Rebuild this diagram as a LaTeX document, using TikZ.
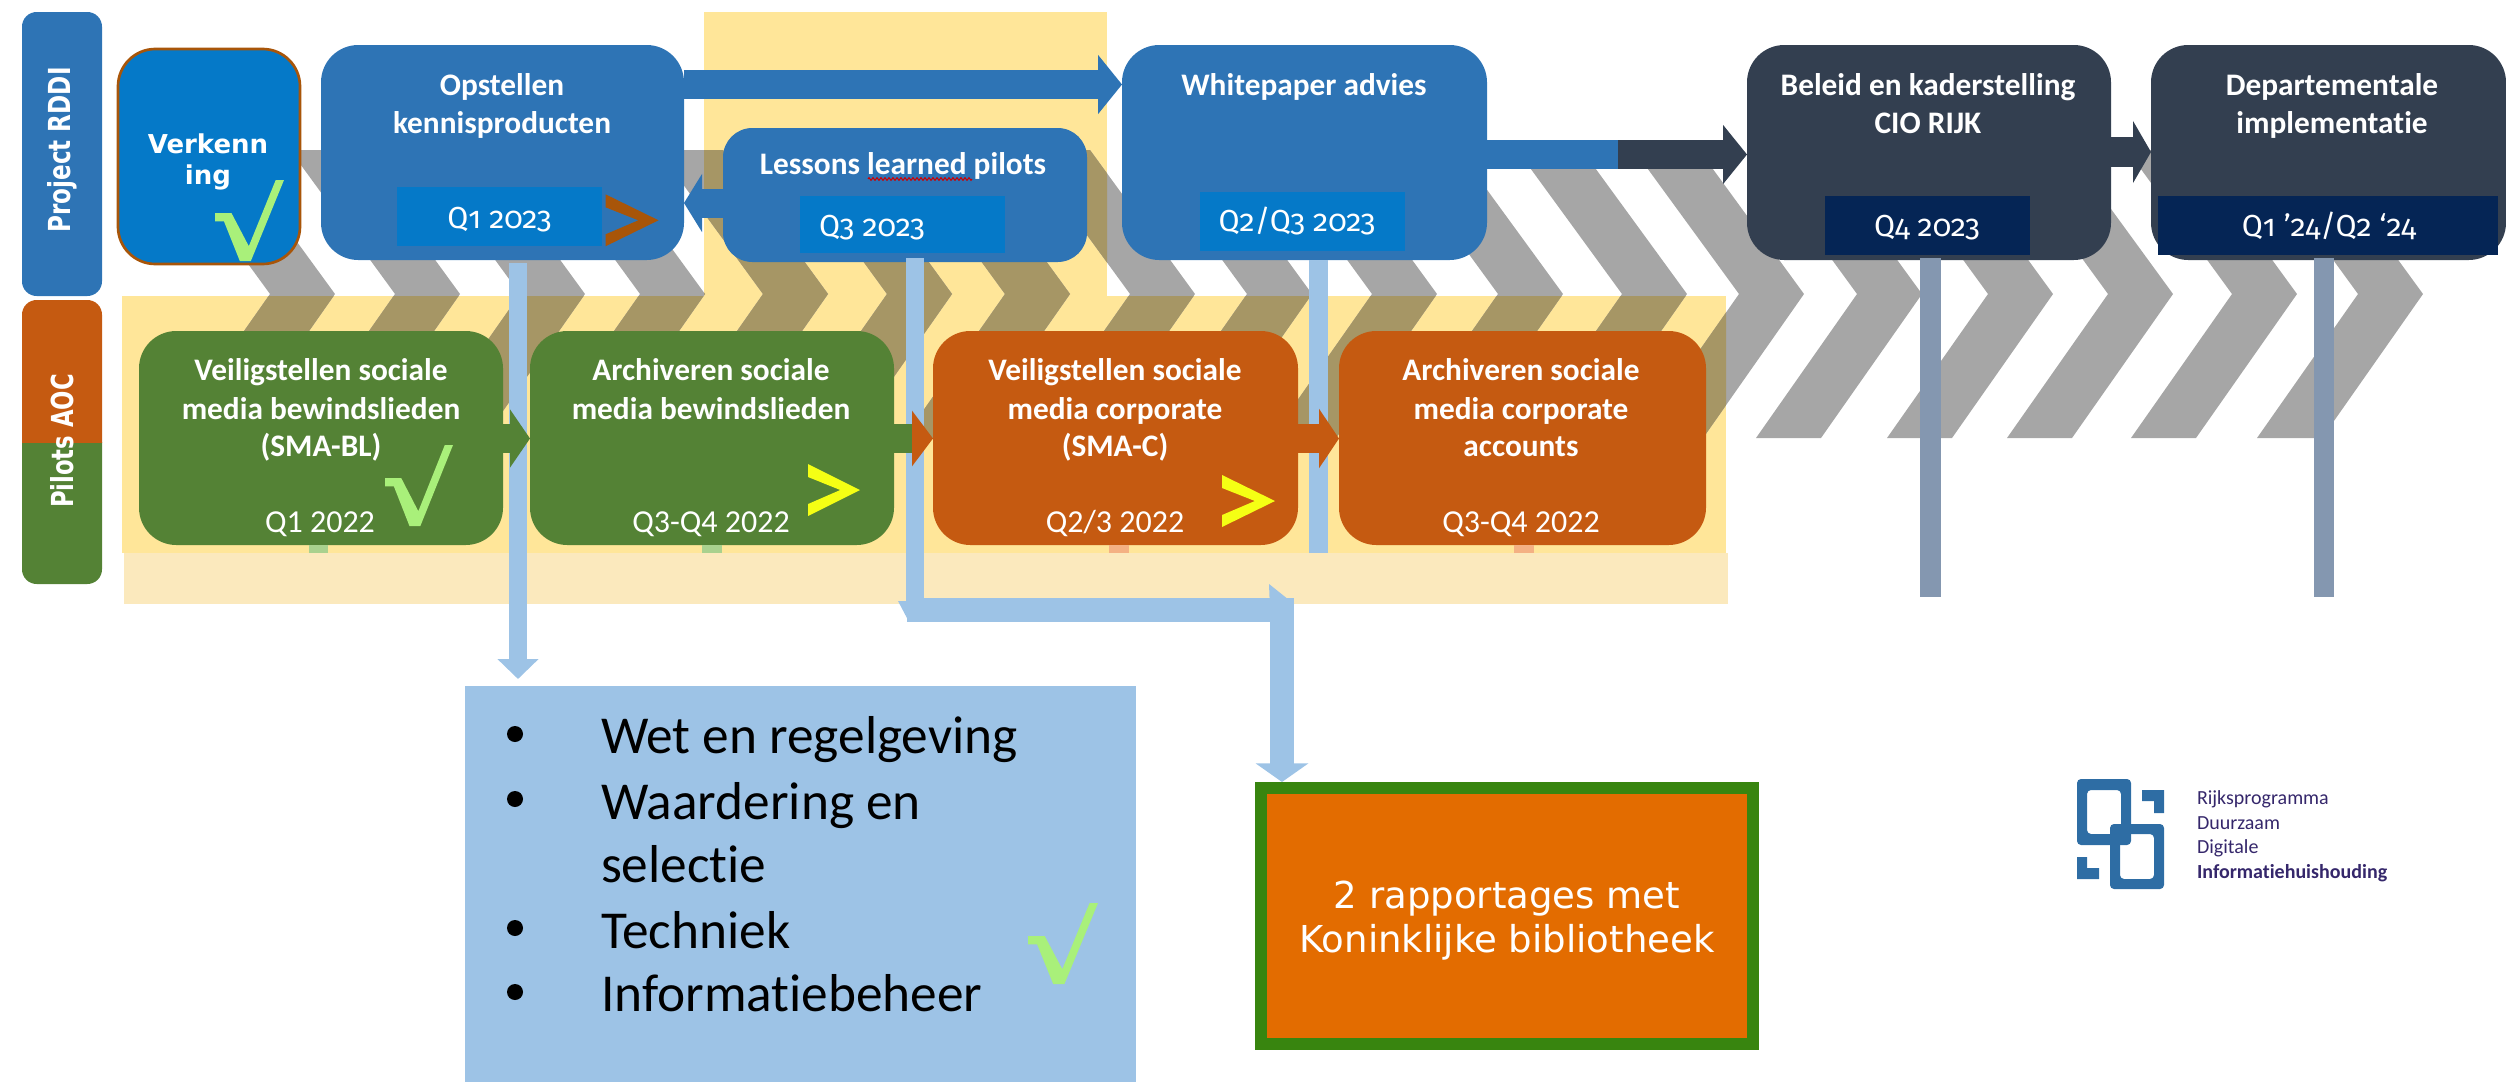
\documentclass[tikz,border=0pt]{standalone}
\usepackage{fontspec}
\setmainfont{Carlito}[Ligatures=CommonOff]
\newfontfamily\vfont{DejaVu Sans}
\newfontfamily\qfont{Fira Sans}[Numbers=OldStyle]
\usetikzlibrary{arrows.meta,decorations.pathmorphing}
\definecolor{bblue}{HTML}{2E74B5}
\definecolor{qblue}{HTML}{0579C8}
\definecolor{navy}{HTML}{052555}
\definecolor{slate}{HTML}{333F50}
\definecolor{pgreen}{HTML}{548235}
\definecolor{porange}{HTML}{C55A11}
\definecolor{darkor}{HTML}{A85509}
\definecolor{yel}{HTML}{FFE699}
\definecolor{pale}{HTML}{FBE9BD}
\definecolor{chgrey}{HTML}{A6A6A6}
\definecolor{olive}{HTML}{A69665}
\definecolor{lblue}{HTML}{9DC3E6}
\definecolor{gblue}{HTML}{8497B0}
\definecolor{chkgreen}{HTML}{A9F07A}
\definecolor{logoblue}{HTML}{2E6DA4}
\definecolor{logotxt}{HTML}{35276B}
\definecolor{stubg}{HTML}{A9D18E}
\definecolor{stubo}{HTML}{F4B183}
\definecolor{repgreen}{HTML}{38850F}
\definecolor{repor}{HTML}{E36C00}
\definecolor{yelgt}{HTML}{F5FF14}
\newcommand\bx[6]{%
 \pgfmathsetmacro\bcx{(#3+#5)/2}\pgfmathsetmacro\bcy{(#4+#6)/2}%
 \pgfmathsetmacro\bw{(#5-#3)*0.75}\pgfmathsetmacro\bh{(#6-#4)*0.75}%
 \node[plain,#1,minimum width=\bw pt,minimum height=\bh pt] (#2) at (\bcx,\bcy) {};}
\newcommand\chev[1]{(#1-170,150) -- (#1-105,150) -- (#1,294) -- (#1-101,438) -- (#1-166,438) -- (#1-65,294) -- cycle}
\newcommand\allchev{%
 \foreach \T in {335,460,585,705,828,952,1070,1195,1312,1437,1563,1687,1804,1922,2053,2173,2297,2423}{\fill \chev{\T};}}
\newcommand\chk[4]{\fill[chkgreen,shift={(#1,#2)},xscale=#3,yscale=#4] (0,.41) -- (.24,.41) -- (.49,.817) -- (.88,0) -- (1,0) -- (.52,1) -- (.36,1) -- (.13,.51) -- (0,.51) -- cycle;}
\newcommand\gt[5]{\fill[#5,shift={(#1,#2)},xscale=#3,yscale=#4] (0,0) -- (1,.5) -- (0,1) -- (0,.77) -- (.62,.5) -- (0,.25) -- cycle;}
\tikzset{
 plain/.style={rectangle,inner sep=0pt,outer sep=0pt},
 rbox/.style={rounded corners=28pt},
 title/.style={anchor=base,inner sep=0pt,outer sep=0pt,text=white,font=\bfseries\fontsize{23.5}{28}\selectfont},
 qtxt/.style={anchor=base,inner sep=0pt,outer sep=0pt,text=white,font=\qfont\fontsize{22.8}{26}\selectfont},
 qlow/.style={anchor=base,inner sep=0pt,outer sep=0pt,text=white,font=\fontsize{24}{28}\selectfont},
 bul/.style={anchor=base west,inner sep=0pt,outer sep=0pt,text=black,font=\fontsize{40}{44}\selectfont},
 logot/.style={anchor=base west,inner sep=0pt,outer sep=0pt,text=logotxt,font=\fontsize{15}{18}\selectfont},
 rep/.style={anchor=base,inner sep=0pt,outer sep=0pt,text=white,font=\vfont\fontsize{27.8}{32}\selectfont},
 barrow/.style={draw=#1,line width=21.75pt,line cap=butt,-{Triangle[length=18pt,width=43.5pt,color=#1]}},
}
\begin{document}
\begin{tikzpicture}[x=0.75pt,y=-0.75pt]
\useasboundingbox (0,0) rectangle (2506,1082);
% background bands
\bx{fill=yel}{yeltop}{704}{12}{1107}{297}
\bx{fill=yel}{yellow}{122}{296}{1726}{553}
\bx{fill=pale}{palestrip}{124}{553}{1728}{604}
% chevrons
\begin{scope}[chgrey]\allchev\end{scope}
\begin{scope}
 \clip (704,12) rectangle (1107,296) (122,296) rectangle (1726,553);
 \begin{scope}[olive]\allchev\end{scope}
\end{scope}
% side bars
\bx{fill=bblue,rounded corners=11pt}{barA}{22}{12}{102}{296}
\begin{scope}
 \clip (22,442) rectangle (102,584);
 \bx{fill=pgreen,rounded corners=11pt}{barBg}{22}{300}{102}{584}
\end{scope}
\begin{scope}
 \clip (22,300) rectangle (102,442);
 \bx{fill=porange,rounded corners=11pt}{barBo}{22}{300}{102}{584}
\end{scope}
\node[plain,rotate=90,text=white] (lblA) at (62,150) {\scalebox{1.22}[1.6]{\vfont\bfseries\fontsize{14.2}{17}\selectfont Project RDDI}};
\node[plain,rotate=90,text=white] (lblB) at (62,441) {\scalebox{1.2}[1.6]{\vfont\bfseries\fontsize{14.2}{17}\selectfont Pilots AOC}};
% top boxes
\bx{fill=qblue,draw=darkor,line width=2pt,rbox}{verk}{118}{49}{300}{264}
\bx{fill=bblue,rbox}{opst}{321}{45}{684}{260}
\bx{fill=bblue,rounded corners=22pt}{less}{723}{128}{1087}{262}
\bx{fill=bblue,rbox}{wit}{1122}{45}{1487}{260}
\bx{fill=slate,rbox}{bel}{1747}{45}{2111}{260}
\bx{fill=slate,rbox}{dep}{2151}{45}{2506}{260}
% bottom boxes
\bx{fill=pgreen,rbox}{ga}{139}{331}{503}{545}
\bx{fill=pgreen,rbox}{gb}{530}{331}{894}{545}
\bx{fill=porange,rbox}{oa}{933}{331}{1298}{545}
\bx{fill=porange,rbox}{ob}{1339}{331}{1706}{545}
% stubs
\bx{fill=stubg}{s1}{309}{545}{328}{553}
\bx{fill=stubg}{s2}{702}{545}{722}{553}
\bx{fill=stubo}{s3}{1109}{545}{1129}{553}
\bx{fill=stubo}{s4}{1514}{545}{1534}{553}
% quarter boxes
\bx{fill=qblue}{q1}{397}{187}{602}{246}
\bx{fill=qblue}{q3}{800}{196}{1005}{253}
\bx{fill=qblue}{q23}{1200}{192}{1405}{251}
\bx{fill=navy}{q4}{1825}{196}{2030}{255}
\bx{fill=navy}{q24}{2158}{196}{2498}{255}
% target boxes
\bx{fill=lblue}{lijst}{465}{686}{1136}{1082}
\bx{fill=repgreen}{rapo}{1255}{782}{1759}{1050}
\bx{fill=repor}{rapi}{1267}{794}{1747}{1038}
% light blue verticals
\coordinate (lijsttop) at (518,679);
\coordinate (lijn2a) at (915,610);
\coordinate (lijn3b) at (1318.5,553);
\coordinate (rapotop) at (1282,782);
\draw[draw=lblue,line width=14pt,line cap=butt,-{Triangle[length=15pt,width=30pt,color=lblue]}] (opst.south -| lijsttop) ++(0,3) -- (lijsttop);
\draw[lblue,line width=14pt,line cap=butt] (less.south -| lijn2a) ++(0,-4) -- (lijn2a);
\draw[lblue,line width=14pt,line cap=butt] (wit.south -| lijn3b) -- (lijn3b);
\draw[lblue,line width=18pt,line cap=butt] (907,610) -- (1282,610);
\draw[draw=lblue,line width=18pt,line cap=butt,-{Triangle[length=14pt,width=39pt,color=lblue]}] (1282,598) -- (rapotop);
\fill[lblue] (1269,584) -- (1294,604) -- (1270,610) -- cycle;
\fill[lblue] (898,601) -- (908,601) -- (908,620) -- cycle;
% grey-blue verticals
\coordinate (v4) at (1930.5,597);
\coordinate (v5) at (2324,597);
\draw[gblue,line width=15.5pt,line cap=butt] (q4.south -| v4) ++(0,3) -- (v4);
\draw[gblue,line width=15.5pt,line cap=butt] (q24.south -| v5) ++(0,3) -- (v5);
% block arrows
\draw[barrow=bblue] (opst.east |- 0,84.5) -- (wit.west |- 0,84.5);
\draw[draw=bblue,line width=21.75pt,line cap=butt,-{Triangle[length=13.5pt,width=43pt,color=bblue]}] (less.west |- 0,203) -- (opst.east |- 0,203);
\draw[barrow=slate] (1618,154.5) -- (bel.west |- 0,154.5);
\coordinate (wisselA) at (1618,154.5);
\draw[bblue,line width=21.75pt,line cap=butt] (wit.east |- wisselA) -- (wisselA);
\draw[draw=slate,line width=22pt,line cap=butt,-{Triangle[length=13.5pt,width=46pt,color=slate]}] (bel.east |- 0,152) -- (dep.west |- 0,152);
\draw[draw=pgreen,line width=21.75pt,line cap=butt,-{Triangle[length=15pt,width=43pt,color=pgreen]}] (ga.east |- 0,438.5) -- (gb.west |- 0,438.5);
\coordinate (wisselB) at (912,438.5);
\draw[draw=porange,line width=21.75pt,line cap=butt,-{Triangle[length=15.75pt,width=41pt,color=porange]}] (wisselB) -- (oa.west |- wisselB);
\draw[pgreen,line width=21.75pt,line cap=butt] (gb.east |- wisselB) -- (wisselB);
\draw[draw=porange,line width=21.75pt,line cap=butt,-{Triangle[length=15pt,width=44pt,color=porange]}] (oa.east |- 0,438.5) -- (ob.west |- 0,438.5);
% status marks
\chk{215}{180}{69}{81}
\chk{385}{445}{68}{81}
\chk{1028}{903}{70}{81}
\gt{605.5}{194.3}{53}{52}{darkor}
\gt{808}{464}{52}{52}{yelgt}
\gt{1222}{475}{53}{52}{yelgt}
% texts
\node[plain,text=white,font=\vfont\bfseries\fontsize{19.5}{24}\selectfont,anchor=base] (v1) at (208,153) {Verkenn};
\node[plain,text=white,font=\vfont\bfseries\fontsize{19.5}{24}\selectfont,anchor=base] (v2) at (208,184) {ing};
\node[title] (t1) at (502,95) {Opstellen};
\node[title] (t2) at (502,133) {kennisproducten};
\node[title] (t3) at (903,174) {Lessons learned pilots};
\coordinate (wava) at (868,179);
\coordinate (wavb) at (972,179);
\draw[red!80!black,line width=.8pt,decorate,decoration={zigzag,amplitude=1pt,segment length=3pt}] (wava) -- (wavb);
\node[title] (t4) at (1304,95) {Whitepaper advies};
\node[title] (t5) at (1928,95) {Beleid en kaderstelling};
\node[title] (t6) at (1928,133) {CIO RIJK};
\node[title] (t7) at (2332,95) {Departementale};
\node[title] (t8) at (2332,133) {implementatie};
\node[qtxt] (q1t) at (499.5,228) {Q1 2023};
\node[qtxt] (q3t) at (872,236) {Q3 2023};
\node[qtxt] (q23t) at (1297,231) {Q2/Q3 2023};
\node[qtxt] (q4t) at (1927,236) {Q4 2023};
\node[qtxt] (q24t) at (2329,236) {Q1 ’24/Q2 ‘24};
\node[title] (a1) at (321,380) {Veiligstellen sociale};
\node[title] (a2) at (321,419) {media bewindslieden};
\node[title] (a3) at (321,456.5) {(SMA-BL)};
\node[title] (b1) at (711,380) {Archiveren sociale};
\node[title] (b2) at (711,419) {media bewindslieden};
\node[title] (c1) at (1115,380) {Veiligstellen sociale};
\node[title] (c2) at (1115,419) {media corporate};
\node[title] (c3) at (1115,456.5) {(SMA-C)};
\node[title] (d1) at (1521,380) {Archiveren sociale};
\node[title] (d2) at (1521,419) {media corporate};
\node[title] (d3) at (1521,456.5) {accounts};
\node[qlow] (qa) at (320,532) {Q1 2022};
\node[qlow] (qb) at (711,532) {Q3-Q4 2022};
\node[qlow] (qc) at (1115,532) {Q2/3 2022};
\node[qlow] (qd) at (1521,532) {Q3-Q4 2022};
% bullet list
\node[bul] (l1) at (601,753) {Wet en regelgeving};
\node[bul] (l2) at (601,819) {Waardering en};
\node[bul] (l3) at (601,882) {selectie};
\node[bul] (l4) at (601,948) {Techniek};
\node[bul] (l5) at (601,1011) {Informatiebeheer};
\fill[black] (515,734) circle[radius=8];
\fill[black] (515,799) circle[radius=8];
\fill[black] (515,928) circle[radius=8];
\fill[black] (515,992) circle[radius=8];
% report box
\node[rep] (r1) at (1507,908) {2 rapportages met};
\node[rep] (r2) at (1507,952) {Koninklijke bibliotheek};
% logo
\fill[logoblue,even odd rule,rounded corners=3pt] (2077,779) rectangle (2131,845) (2087,790) rectangle (2121,834);
\fill[logoblue,even odd rule,rounded corners=3pt] (2110,824) rectangle (2164,889) (2120,834) rectangle (2154,879);
\fill[logoblue] (2142,790) -- (2164,790) -- (2164,813) -- (2154,813) -- (2154,801) -- (2142,801) -- cycle;
\fill[logoblue] (2077,857) -- (2087,857) -- (2087,868) -- (2099,868) -- (2099,879) -- (2077,879) -- cycle;
\node[logot] (g1) at (2197,804) {Rijksprogramma};
\node[logot] (g2) at (2197,829) {Duurzaam};
\node[logot] (g3) at (2197,853) {Digitale};
\node[logot,font=\bfseries\fontsize{15}{18}\selectfont] (g4) at (2197,878) {Informatiehuishouding};
\end{tikzpicture}
\end{document}
